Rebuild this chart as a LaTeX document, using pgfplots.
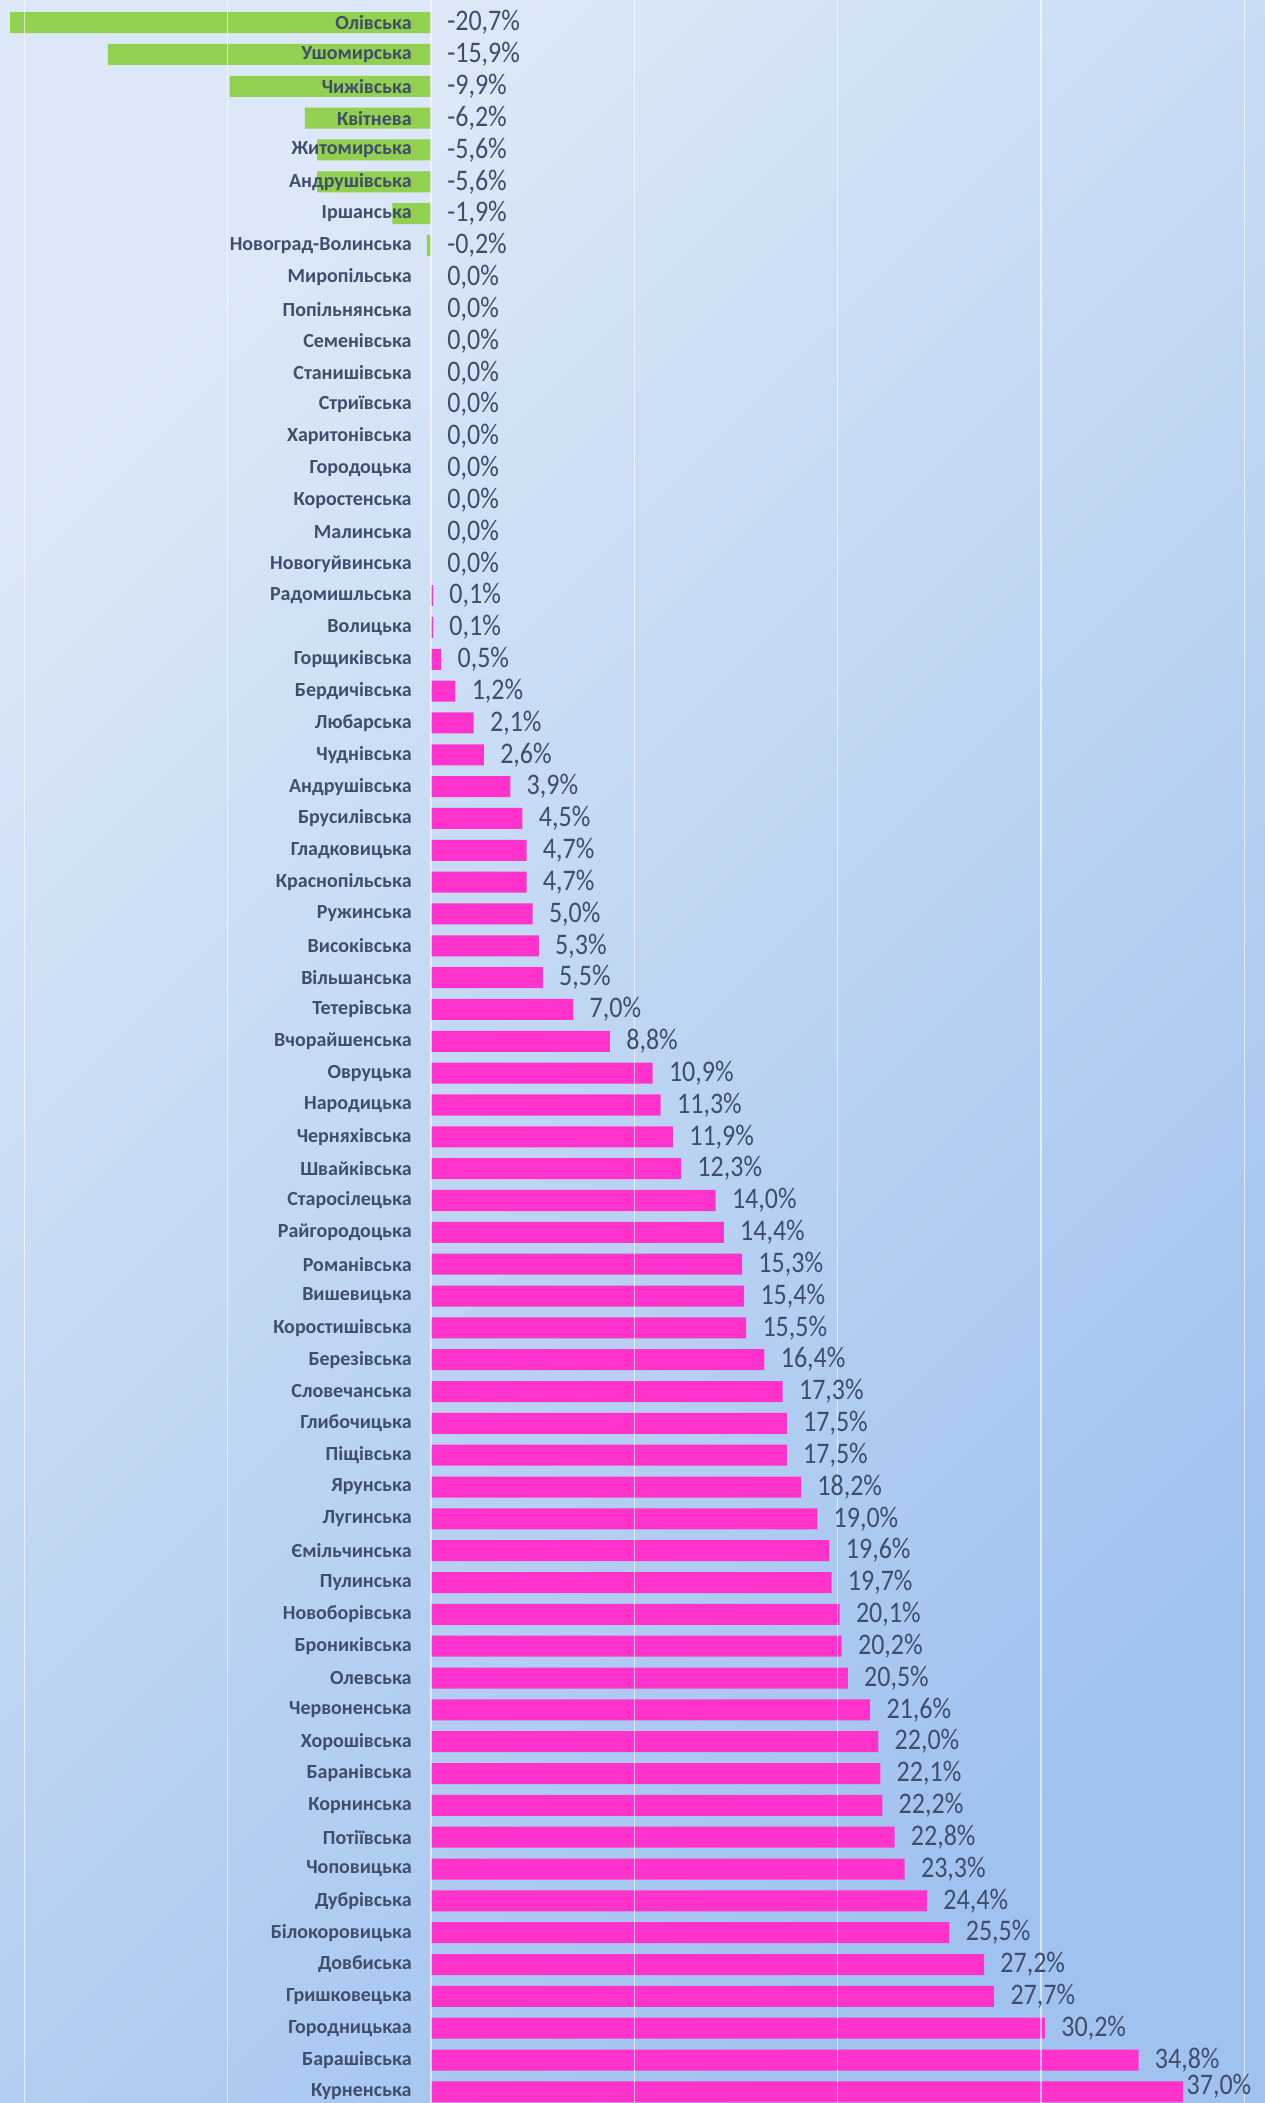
\documentclass[border=0pt]{standalone}
\usepackage{pgfplots}
\pgfplotsset{compat=1.18}
\usepackage{pgfplotstable}
\usepackage{fontspec}
\setmainfont{Carlito}
\usepackage{graphicx}

\definecolor{txt}{HTML}{3F4E6B}
\definecolor{neg}{HTML}{92D050}
\definecolor{pos}{HTML}{FF33CC}
\definecolor{bgA}{HTML}{DCE8F7}
\definecolor{bgB}{HTML}{9FC2EF}

% dx, dy = shift (pt) of the value label from the bar end
\pgfplotstableread{
i name v dx dy
0 Олівська -20.7 8 0
1 Ушомирська -15.9 8 0
2 Чижівська -9.9 8 0
3 Квітнева -6.2 8 0
4 Житомирська -5.6 8 0
5 Андрушівська -5.6 8 0
6 Іршанська -1.9 8 0
7 Новоград-Волинська -0.2 8 0
8 Миропільська 0.0 8 0
9 Попільнянська 0.0 8 0
10 Семенівська 0.0 8 0
11 Станишівська 0.0 8 0
12 Стриївська 0.0 8 0
13 Харитонівська 0.0 8 0
14 Городоцька 0.0 8 0
15 Коростенська 0.0 8 0
16 Малинська 0.0 8 0
17 Новогуйвинська 0.0 8 0
18 Радомишльська 0.1 8 0
19 Волицька 0.1 8 0
20 Горщиківська 0.5 8 0
21 Бердичівська 1.2 8 0
22 Любарська 2.1 8 0
23 Чуднівська 2.6 8 0
24 Андрушівська 3.9 8 0
25 Брусилівська 4.5 8 0
26 Гладковицька 4.7 8 0
27 Краснопільська 4.7 8 0
28 Ружинська 5.0 8 0
29 Високівська 5.3 8 0
30 Вільшанська 5.5 8 0
31 Тетерівська 7.0 8 0
32 Вчорайшенська 8.8 8 0
33 Овруцька 10.9 8 0
34 Народицька 11.3 8 0
35 Черняхівська 11.9 8 0
36 Швайківська 12.3 8 0
37 Старосілецька 14.0 8 0
38 Райгородоцька 14.4 8 0
39 Романівська 15.3 8 0
40 Вишевицька 15.4 8 0
41 Коростишівська 15.5 8 0
42 Березівська 16.4 8 0
43 Словечанська 17.3 8 0
44 Глибочицька 17.5 8 0
45 Піщівська 17.5 8 0
46 Ярунська 18.2 8 0
47 Лугинська 19.0 8 0
48 Ємільчинська 19.6 8 0
49 Пулинська 19.7 8 0
50 Новоборівська 20.1 8 0
51 Брониківська 20.2 8 0
52 Олевська 20.5 8 0
53 Червоненська 21.6 8 0
54 Хорошівська 22.0 8 0
55 Баранівська 22.1 8 0
56 Корнинська 22.2 8 0
57 Потіївська 22.8 8 0
58 Чоповицька 23.3 8 0
59 Дубрівська 24.4 8 0
60 Білокоровицька 25.5 8 0
61 Довбиська 27.2 8 0
62 Гришковецька 27.7 8 0
63 Городницькаа 30.2 8 0
64 Барашівська 34.8 8 0
65 Курненська 37.0 1.5 3
}\data

\begin{document}
\begin{tikzpicture}
\begin{axis}[
  scale only axis,
  width=632.5pt, height=1051.5pt,
  xmin=-21.2, xmax=41.02,
  ymin=-0.71, ymax=65.35,
  y dir=reverse,
  axis line style={draw=none},
  xtick={-20,-10,...,40}, xticklabels={},
  ytick=\empty,
  tick style={draw=none},
  xmajorgrids,
  major grid style={white, opacity=0.6, line width=0.6pt},
  axis on top,
  axis background/.style={left color=bgA, right color=bgB, shading angle=45},
  clip=false,
  /pgf/number format/assume math mode=true,
]
  % negative bars
  \addplot[xbar, bar width=0.66, bar shift=0pt, fill=neg, draw=none,
    x filter/.expression={x<0 ? x : nan}]
    table[x=v, y=i] {\data};
  % positive bars
  \addplot[xbar, bar width=0.66, bar shift=0pt, fill=pos, draw=none,
    x filter/.expression={x>0 ? x : nan}]
    table[x=v, y=i] {\data};
  % category names
  \addplot[draw=none, point meta=explicit symbolic,
    nodes near coords,
    nodes near coords style={anchor=east, inner sep=0pt, xshift=-9.5pt,
      text=txt, font=\fontsize{10}{12}\selectfont\bfseries}]
    table[x expr=0, y=i, meta=name] {\data};
  % value labels
  \addplot[draw=none, point meta=explicit,
    visualization depends on={\thisrow{dx} \as \dx},
    visualization depends on={\thisrow{dy} \as \dy},
    nodes near coords={\scalebox{1}[1.15]{\pgfmathprintnumber[fixed, fixed zerofill, precision=1, use comma]{\pgfplotspointmeta}\%}},
    nodes near coords style={anchor=west, inner sep=0pt, xshift=\dx pt, yshift=\dy pt,
      text=txt, font=\fontsize{13}{15}\selectfont}]
    table[x expr={max(\thisrow{v},0)}, y=i, meta=v] {\data};
\end{axis}
\pgfresetboundingbox
\path (current axis.south west) rectangle (current axis.north east);
\end{tikzpicture}
\end{document}
